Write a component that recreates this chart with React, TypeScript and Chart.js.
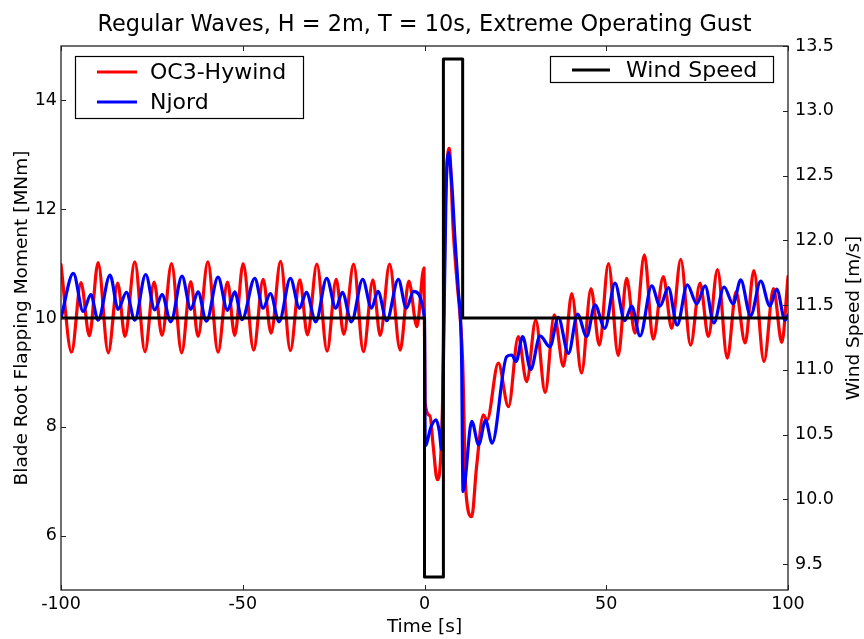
import React, { useEffect, useRef } from 'react';
import { Chart, registerables } from 'chart.js';

Chart.register(...registerables);

// ---------------- data ----------------
const RED_T = [
  -100, -97.1, -94.5, -92.2, -89.8, -87.0, -84.4, -82.4, -79.7, -76.9, -74.4, -72.2, -69.6,
  -66.8, -64.3, -62.3, -59.6, -56.8, -54.2, -52.2, -49.9, -47.0, -44.4, -42.2, -39.6,
  -36.9, -34.3, -32.2, -29.6, -26.8, -24.3, -22.2, -19.5, -16.8, -14.2, -12.2, -9.6,
  -6.7, -4.3, -2.1, -0.15, 0.15, 1.5, 2.4, 3.5, 4.3, 5.0, 5.6, 6.8, 7.9, 8.9, 9.8, 10.5,
  11.4, 13.0, 14.3, 16.2, 17.2, 20.3, 23.1, 25.8, 28.1, 30.6, 33.2, 35.7, 38.2, 40.5, 43.2,
  45.8, 48.1, 50.6, 53.3, 55.6, 57.9, 60.5, 62.9, 65.7, 68.0, 70.5, 73.2, 75.8, 78.1, 80.6,
  83.3, 85.7, 88.2, 90.6, 93.4, 96.0, 98.3, 100,
];
const OC3_HYWIND = [
  10.98, 9.37, 10.65, 9.67, 11.02, 9.36, 10.64, 9.66, 11.03, 9.38, 10.66, 9.68, 11.0,
  9.36, 10.67, 9.66, 11.03, 9.37, 10.66, 9.68, 11.0, 9.41, 10.71, 9.72, 11.04,
  9.4, 10.7, 9.69, 10.99, 9.39, 10.71, 9.7, 10.99, 9.38, 10.7, 9.68, 10.99,
  9.41, 10.68, 9.84, 10.92, 8.45, 8.2, 7.64, 7.03, 7.27, 8.56, 11.61, 13.12, 11.61, 10.7, 10.02, 9.2,
  6.8, 6.35, 7.25, 8.22, 8.12, 9.17, 8.37, 9.66, 8.83, 9.96, 8.63, 10.06, 9.11, 10.45, 8.99,
  10.54, 9.5, 11.0, 9.31, 10.73, 9.72, 11.16, 9.61, 10.76, 9.81, 11.08, 9.5, 10.64, 9.66, 10.89,
  9.26, 10.48, 9.54, 10.87, 9.2, 10.54, 9.55, 10.76,
];

const BLUE_T = [
  -100, -96.6, -93.9, -91.8, -89.8, -86.5, -84.3, -82.0, -79.7, -76.7, -74.2, -72.2, -69.8,
  -66.7, -64.3, -62.3, -60.0, -56.8, -54.2, -52.2, -50.2, -46.7, -44.4, -42.4, -40.0,
  -36.9, -34.4, -32.5, -29.9, -26.9, -24.4, -22.6, -20.1, -17.0, -14.6, -12.8, -10.4,
  -7.2, -5.0, -3.0, 0.0, 0.2, 1.8, 3.2, 4.1, 4.7, 5.2, 5.9, 6.6, 7.5, 8.4, 9.3, 10.2, 10.6,
  13.0, 14.9, 16.8, 18.6, 22.6, 24.0, 25.2, 27.0, 29.2, 31.8, 34.5, 36.8, 39.6, 42.1, 44.6,
  46.9, 49.6, 52.4, 55.1, 57.0, 59.3, 62.5, 64.8, 67.1, 69.5, 72.3, 74.9, 77.2, 79.6, 82.4,
  84.9, 87.0, 89.7, 92.5, 95.0, 96.9, 99.2, 100,
];
const NJORD = [
  10.0, 10.82, 10.12, 10.43, 9.96, 10.79, 10.16, 10.47, 9.96, 10.8, 10.15, 10.43, 9.93,
  10.77, 10.16, 10.48, 9.94, 10.75, 10.14, 10.48, 9.97, 10.73, 10.18, 10.45, 9.93,
  10.73, 10.18, 10.47, 9.93, 10.73, 10.18, 10.47, 9.93, 10.71, 10.18, 10.49, 9.95,
  10.71, 10.18, 10.49, 10.0, 7.65, 8.0, 8.13, 7.91, 7.58, 9.17, 12.23, 13.04, 12.47, 11.43, 10.51, 9.29, 6.81,
  8.1, 7.67, 8.12, 7.7, 9.29, 9.32, 9.2, 9.66, 9.05, 9.67, 9.47, 10.01, 9.35, 10.07, 9.66,
  10.24, 9.81, 10.64, 9.95, 10.22, 9.67, 10.59, 10.22, 10.56, 9.87, 10.61, 10.26, 10.59, 9.91, 10.57,
  10.26, 10.7, 10.04, 10.68, 10.22, 10.53, 9.96, 10.05,
];

const WIND_T = [-100, 0, 0, 5.2, 5.2, 10.5, 10.5, 100];
const WIND_SPEED = [11.4, 11.4, 9.4, 9.4, 13.4, 13.4, 11.4, 11.4];

const X_TICKS = [-100, -50, 0, 50, 100];
const LEFT_TICKS = [6, 8, 10, 12, 14];
const RIGHT_TICKS = [9.5, 10.0, 10.5, 11.0, 11.5, 12.0, 12.5, 13.0, 13.5];

const TITLE = 'Regular Waves, H = 2m, T = 10s, Extreme Operating Gust';
const X_TITLE = 'Time [s]';
const Y_TITLE = 'Blade Root Flapping Moment [MNm]';
const Y2_TITLE = 'Wind Speed [m/s]';
const RED = '#ff0000';
const BLUE = '#0000ff';
const BLACK = '#000000';
const FONT = '"DejaVu Sans", Verdana, sans-serif';

const pts = (xs: number[], ys: number[]) => xs.map((x, i) => ({ x, y: ys[i] }));

const decorPlugin = {
  id: 'decor',
  afterDatasetsDraw(chart: any) {
    const { ctx, chartArea: a, scales } = chart;
    ctx.save();
    ctx.strokeStyle = '#222222';
    ctx.lineWidth = 1.3;
    ctx.strokeRect(a.left, a.top, a.right - a.left, a.bottom - a.top);
    ctx.lineWidth = 1;
    const TL = 5;
    ctx.beginPath();
    for (const v of X_TICKS) {
      const x = Math.round(scales.x.getPixelForValue(v)) + 0.5;
      ctx.moveTo(x, a.bottom); ctx.lineTo(x, a.bottom - TL);
      ctx.moveTo(x, a.top); ctx.lineTo(x, a.top + TL);
    }
    for (const v of LEFT_TICKS) {
      const y = Math.round(scales.y.getPixelForValue(v)) + 0.5;
      ctx.moveTo(a.left, y); ctx.lineTo(a.left + TL, y);
    }
    for (const v of RIGHT_TICKS) {
      const y = Math.round(scales.y2.getPixelForValue(v)) + 0.5;
      ctx.moveTo(a.right, y); ctx.lineTo(a.right - TL, y);
    }
    ctx.stroke();
    ctx.restore();
  },
  afterDraw(chart: any) {
    const { ctx, chartArea: a } = chart;
    const cx = (a.left + a.right) / 2;
    const cy = (a.top + a.bottom) / 2;
    ctx.save();
    ctx.fillStyle = BLACK;
    // title
    ctx.font = `22.4px ${FONT}`;
    ctx.textAlign = 'center';
    ctx.textBaseline = 'alphabetic';
    ctx.fillText(TITLE, cx, 31);
    // axis titles
    ctx.font = `18.5px ${FONT}`;
    ctx.fillText(X_TITLE, cx, 632);
    ctx.save();
    ctx.translate(27, cy);
    ctx.rotate(-Math.PI / 2);
    ctx.fillText(Y_TITLE, 0, 0);
    ctx.restore();
    ctx.save();
    ctx.translate(858.5, cy);
    ctx.rotate(-Math.PI / 2);
    ctx.fillText(Y2_TITLE, 0, 0);
    ctx.restore();

    // legends
    const legendBox = (x0: number, y0: number, x1: number, y1: number) => {
      ctx.fillStyle = '#ffffff';
      ctx.fillRect(x0, y0, x1 - x0, y1 - y0);
      ctx.strokeStyle = '#000000';
      ctx.lineWidth = 1.2;
      ctx.strokeRect(x0, y0, x1 - x0, y1 - y0);
    };
    const entry = (x0: number, x1: number, y: number, color: string, label: string, tx: number) => {
      ctx.strokeStyle = color;
      ctx.lineWidth = 3;
      ctx.beginPath();
      ctx.moveTo(x0, y); ctx.lineTo(x1, y);
      ctx.stroke();
      ctx.fillStyle = BLACK;
      ctx.font = `22px ${FONT}`;
      ctx.textAlign = 'left';
      ctx.textBaseline = 'middle';
      ctx.fillText(label, tx, y + 1);
    };
    legendBox(75.5, 56.5, 303.5, 118.5);
    entry(97, 137, 72, RED, 'OC3-Hywind', 150);
    entry(97, 137, 102, BLUE, 'Njord', 150);
    legendBox(550.5, 56.5, 773.5, 82.5);
    entry(572, 610, 70, BLACK, 'Wind Speed', 626);
    ctx.restore();
  },
};

export default function App() {
  const ref = useRef<HTMLCanvasElement | null>(null);
  useEffect(() => {
    if (!ref.current) return;
    const tickFont = { family: FONT, size: 17.5 };
    const chart = new Chart(ref.current, {
      type: 'line',
      data: {
        datasets: [
          {
            label: 'Wind Speed',
            data: pts(WIND_T, WIND_SPEED),
            yAxisID: 'y2',
            borderColor: BLACK,
            borderWidth: 3,
            pointRadius: 0,
            tension: 0,
            order: 0,
          },
          {
            label: 'Njord',
            data: pts(BLUE_T, NJORD),
            yAxisID: 'y',
            borderColor: BLUE,
            borderWidth: 3.2,
            pointRadius: 0,
            cubicInterpolationMode: 'monotone',
            order: 1,
          },
          {
            label: 'OC3-Hywind',
            data: pts(RED_T, OC3_HYWIND),
            yAxisID: 'y',
            borderColor: RED,
            borderWidth: 3.2,
            pointRadius: 0,
            cubicInterpolationMode: 'monotone',
            order: 2,
          },
        ],
      } as any,
      options: {
        animation: false,
        responsive: false,
        devicePixelRatio: 1,
        layout: { padding: { top: 46, left: 0, right: 0, bottom: 0 } },
        plugins: { legend: { display: false }, title: { display: false }, tooltip: { enabled: false } },
        elements: { line: { borderJoinStyle: 'round', borderCapStyle: 'round' } },
        scales: {
          x: {
            type: 'linear',
            position: 'bottom',
            min: -100,
            max: 100,
            grid: { display: false, drawTicks: false },
            border: { display: false },
            ticks: { font: tickFont, color: BLACK, padding: 4, callback: (v: any) => String(v) },
            afterBuildTicks: (s: any) => { s.ticks = X_TICKS.map((value) => ({ value })); },
            afterFit: (s: any) => { s.height = 49; },
          },
          y: {
            type: 'linear',
            position: 'left',
            min: 5,
            max: 15,
            grid: { display: false, drawTicks: false },
            border: { display: false },
            ticks: { font: tickFont, color: BLACK, padding: 4, callback: (v: any) => String(v) },
            afterBuildTicks: (s: any) => { s.ticks = LEFT_TICKS.map((value) => ({ value })); },
            afterFit: (s: any) => { s.width = 61; },
          },
          y2: {
            type: 'linear',
            position: 'right',
            min: 9.3,
            max: 13.5,
            grid: { display: false, drawTicks: false },
            border: { display: false },
            ticks: { font: tickFont, color: BLACK, padding: 7, callback: (v: any) => Number(v).toFixed(1) },
            afterBuildTicks: (s: any) => { s.ticks = RIGHT_TICKS.map((value) => ({ value })); },
            afterFit: (s: any) => { s.width = 76; },
          },
        },
      } as any,
      plugins: [decorPlugin],
    });
    return () => chart.destroy();
  }, []);
  return (
    <div style={{ position: 'fixed', left: 0, top: 0, width: 864, height: 639, background: '#fff' }}>
      <canvas ref={ref} width={864} height={639} />
    </div>
  );
}
